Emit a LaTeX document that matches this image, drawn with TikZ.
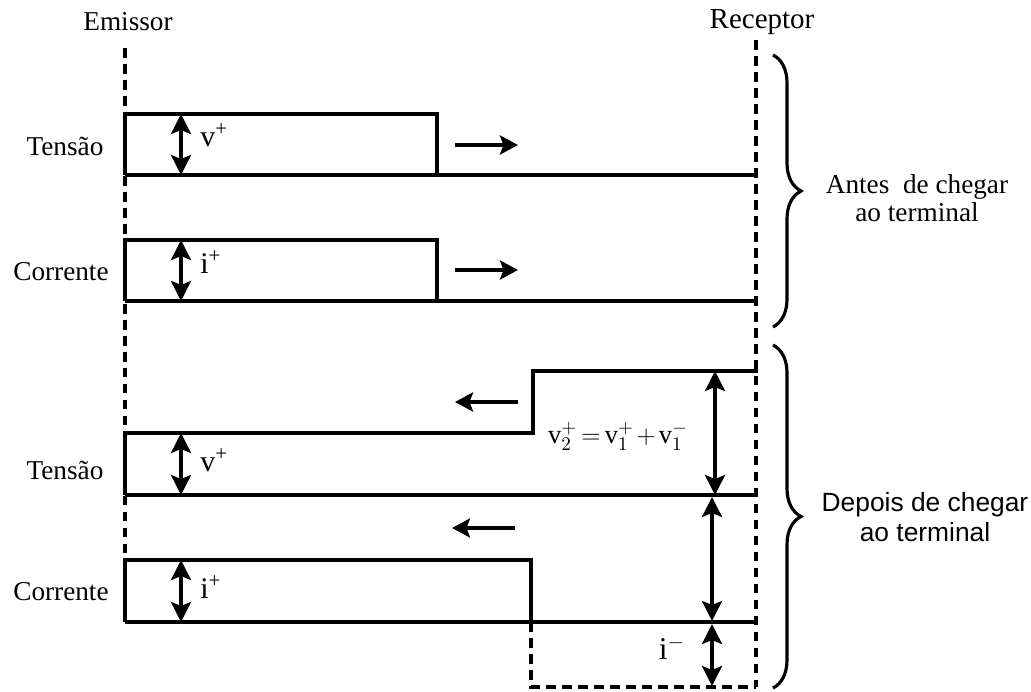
\documentclass[tikz,border=0pt]{standalone}
\usepackage{fontspec}
\setmainfont{Liberation Serif}
\newfontfamily\sansfont{Liberation Sans}
\usetikzlibrary{arrows.meta,decorations.pathreplacing}
\tikzset{
	wave/.style={line width=2pt},
	guide/.style={line width=1.9pt, dash pattern=on 5.5pt off 3.6pt},
	dblarrow/.style={line width=2pt, {Stealth[length=4mm,width=4mm,inset=0.8mm]}-{Stealth[length=4mm,width=4mm,inset=0.8mm]}},
	movearrow/.style={line width=2pt, -{Stealth[length=3.6mm,width=3.8mm,inset=0.7mm]}},
	lbl/.style={font=\fontsize{15.5}{16}\selectfont},
	brc/.style={line width=1.8pt, decorate, decoration={brace, amplitude=5.6mm}},
}
\begin{document}
\begin{tikzpicture}
		\useasboundingbox (0, 0) rectangle (20.62, 13.82);
		
		\coordinate (e1) at (2.5, 12.86);
		\coordinate (e2) at (2.5, 1.36);
		\coordinate (r1) at (15.12, 13.02);
		\coordinate (r2) at (15.12, 0.08);
		\draw[guide] (e1) -- (e2);
		\draw[guide] (r1) -- (r2);
		
		\node[lbl] (emissor) at (2.56, 13.38) {Emissor};
		\node[lbl, font=\fontsize{16.5}{18}\selectfont] (receptor) at (15.24, 13.38) {Receptor};
		
		\draw[wave] (2.5, 10.32) -- (2.5, 11.54) -- (8.74, 11.54) -- (8.74, 10.32);
		\draw[wave] (2.5, 10.32) -- (15.16, 10.32);
		\draw[wave] (2.5, 7.8) -- (2.5, 9.02) -- (8.74, 9.02) -- (8.74, 7.8);
		\draw[wave] (2.5, 7.8) -- (15.16, 7.8);
		
		\draw[wave] (2.5, 3.92) -- (2.5, 5.16) -- (10.66, 5.16) -- (10.66, 6.4) -- (15.16, 6.4);
		\draw[wave] (2.5, 3.92) -- (15.16, 3.92);
		\draw[wave] (2.5, 1.38) -- (2.5, 2.62) -- (10.62, 2.62) -- (10.62, 1.38);
		\draw[wave] (2.5, 1.38) -- (15.16, 1.38);
		\draw[guide] (10.62, 1.38) -- (10.62, 0.08) -- (15.12, 0.08);
		
		\node[lbl] (t1) at (1.3, 10.9) {Tensão};
		\node[lbl] (c1) at (1.22, 8.38) {Corrente};
		\node[lbl] (t2) at (1.3, 4.42) {Tensão};
		\node[lbl] (c2) at (1.22, 1.98) {Corrente};
		
		\coordinate (a1) at (3.62, 11.54);
		\coordinate (a2) at (3.62, 10.32);
		\coordinate (b1) at (3.62, 9.02);
		\coordinate (b2) at (3.62, 7.8);
		\coordinate (a3) at (3.62, 5.16);
		\coordinate (a4) at (3.62, 3.92);
		\coordinate (b3) at (3.62, 2.62);
		\coordinate (b4) at (3.62, 1.38);
		\draw[dblarrow] (a1) -- (a2);
		\draw[dblarrow] (b1) -- (b2);
		\draw[dblarrow] (a3) -- (a4);
		\draw[dblarrow] (b3) -- (b4);
		
		\node[font=\fontsize{17}{18}\selectfont, anchor=west, inner sep=0pt] (v1) at (4.0, 11.12) {v\textsuperscript{+}};
		\node[font=\fontsize{17}{18}\selectfont, anchor=west, inner sep=0pt] (i1) at (4.0, 8.58) {i\textsuperscript{+}};
		\node[font=\fontsize{17}{18}\selectfont, anchor=west, inner sep=0pt] (v2) at (4.0, 4.62) {v\textsuperscript{+}};
		\node[font=\fontsize{17}{18}\selectfont, anchor=west, inner sep=0pt] (i2) at (4.0, 2.08) {i\textsuperscript{+}};
		
		\coordinate (m1) at (9.1, 10.92);
		\coordinate (m2) at (10.36, 10.92);
		\coordinate (m3) at (9.1, 8.42);
		\coordinate (m4) at (10.36, 8.42);
		\coordinate (m5) at (10.36, 5.78);
		\coordinate (m6) at (9.1, 5.78);
		\coordinate (m7) at (10.3, 3.26);
		\coordinate (m8) at (9.04, 3.26);
		\draw[movearrow] (m1) -- (m2);
		\draw[movearrow] (m3) -- (m4);
		\draw[movearrow] (m5) -- (m6);
		\draw[movearrow] (m7) -- (m8);
		
		\coordinate (s1) at (14.3, 6.4);
		\coordinate (s2) at (14.3, 3.92);
		\coordinate (s3) at (14.24, 3.88);
		\coordinate (s4) at (14.24, 1.4);
		\coordinate (s5) at (14.24, 1.34);
		\coordinate (s6) at (14.24, 0.1);
		\draw[dblarrow] (s1) -- (s2);
		\draw[dblarrow] (s3) -- (s4);
		\draw[dblarrow] (s5) -- (s6);
		
		\node[font=\fontsize{15}{18}\selectfont] (soma) at (12.36, 5.1) {\thickmuskip=3mu \medmuskip=2mu $\mathrm{v}_2^+ = \mathrm{v}_1^+ + \mathrm{v}_1^-$};
		\node[font=\fontsize{18}{18}\selectfont] (iminus) at (13.44, 0.86) {i\textsuperscript{$-$}};
		
		\draw[brc] (15.46, 12.72) -- (15.46, 7.28);
		\draw[brc] (15.46, 6.92) -- (15.46, 0.06);
		
		\node[lbl, align=center] (antes) at (18.34, 9.86) {Antes\ \ de chegar\\ao terminal};
		\node[font=\sansfont\fontsize{15}{17}\selectfont, align=center] (depois) at (18.5, 3.48) {Depois de chegar\\ao terminal};
	\end{tikzpicture}
\end{document}
